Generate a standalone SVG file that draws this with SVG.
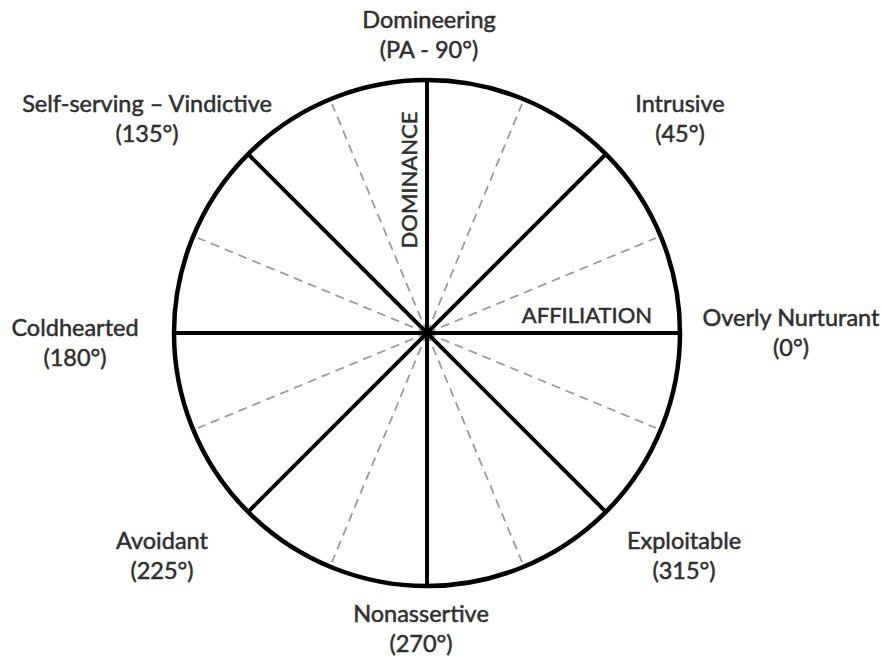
<svg xmlns="http://www.w3.org/2000/svg" width="882" height="659" viewBox="0 0 882 659">
<style>
.lbl{font-family:Lato,"Open Sans","Liberation Sans",sans-serif;font-size:23.5px;fill:#2e2e2e;stroke:#2e2e2e;stroke-width:0.5;text-anchor:middle}
.axis{font-family:Lato,"Open Sans","Liberation Sans",sans-serif;font-size:22px;fill:#2e2e2e;stroke:#2e2e2e;stroke-width:0.5;text-anchor:middle}
.solid{stroke:#000;stroke-width:4;fill:none}
.dash{stroke:#9a9a9a;stroke-width:1.8;stroke-dasharray:9 6;fill:none}
</style>
<rect width="882" height="659" fill="#fff"/>
<g id="connectors">
<g id="dashed">
<line class="dash" x1="427" y1="333" x2="522" y2="104"/>
<line class="dash" x1="427" y1="333" x2="656" y2="238"/>
<line class="dash" x1="427" y1="333" x2="656" y2="428"/>
<line class="dash" x1="427" y1="333" x2="522" y2="562"/>
<line class="dash" x1="427" y1="333" x2="332" y2="562"/>
<line class="dash" x1="427" y1="333" x2="198" y2="428"/>
<line class="dash" x1="427" y1="333" x2="198" y2="238"/>
<line class="dash" x1="427" y1="333" x2="332" y2="104"/>
</g>
<g id="solid">
<line class="solid" x1="427" y1="80" x2="427" y2="586"/>
<line class="solid" x1="174" y1="333" x2="680" y2="333"/>
<line class="solid" x1="248" y1="154" x2="606" y2="512"/>
<line class="solid" x1="606" y1="154" x2="248" y2="512"/>
</g>
</g>
<g id="circle">
<circle cx="427" cy="333" r="253" fill="none" stroke="#000" stroke-width="4.5"/>
</g>
<g id="axis-dominance"><text class="axis" transform="translate(417,180) rotate(-90)">DOMINANCE</text></g>
<g id="axis-affiliation"><text class="axis" x="587" y="323">AFFILIATION</text></g>
<g id="n90"><text class="lbl" x="429" y="28">Domineering</text><text class="lbl" x="429" y="58">(PA - 90°)</text></g>
<g id="n45"><text class="lbl" x="680" y="112">Intrusive</text><text class="lbl" x="680" y="142">(45°)</text></g>
<g id="n135"><text class="lbl" x="147" y="112">Self-serving – Vindictive</text><text class="lbl" x="147" y="142">(135°)</text></g>
<g id="n180"><text class="lbl" x="75" y="336">Coldhearted</text><text class="lbl" x="75" y="366">(180°)</text></g>
<g id="n0"><text class="lbl" x="791" y="326">Overly Nurturant</text><text class="lbl" x="791" y="356">(0°)</text></g>
<g id="n225"><text class="lbl" x="162" y="549">Avoidant</text><text class="lbl" x="162" y="579">(225°)</text></g>
<g id="n315"><text class="lbl" x="684" y="549">Exploitable</text><text class="lbl" x="684" y="579">(315°)</text></g>
<g id="n270"><text class="lbl" x="421" y="622">Nonassertive</text><text class="lbl" x="421" y="652">(270°)</text></g>
</svg>
